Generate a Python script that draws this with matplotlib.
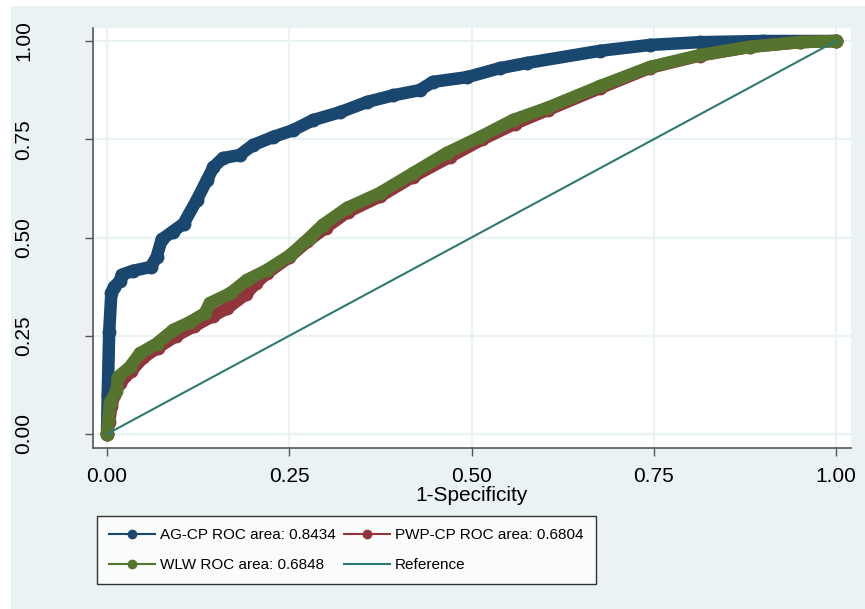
"""ROC curves for AG-CP, PWP-CP and WLW models (Stata s2color look)."""

import matplotlib

matplotlib.use("Agg")
import matplotlib.pyplot as plt  # noqa: E402
from matplotlib.lines import Line2D  # noqa: E402
from matplotlib.patches import Rectangle  # noqa: E402

# data
ag_x = [0, 0.001, 0.003, 0.006, 0.01, 0.018, 0.02, 0.035, 0.06, 0.068, 0.075, 0.09,
        0.105, 0.123, 0.137, 0.146, 0.159, 0.182, 0.2, 0.228, 0.255, 0.283, 0.32,
        0.357, 0.393, 0.429, 0.447, 0.494, 0.539, 0.576, 0.676, 0.745, 0.813, 0.9, 1]
ag_y = [0, 0.1, 0.26, 0.36, 0.375, 0.39, 0.405, 0.415, 0.425, 0.45, 0.495, 0.515,
        0.535, 0.595, 0.646, 0.679, 0.702, 0.71, 0.735, 0.756, 0.773, 0.799, 0.819,
        0.845, 0.862, 0.875, 0.896, 0.908, 0.931, 0.944, 0.975, 0.99, 0.997, 1.0, 1]

pwp_x = [0, 0.003, 0.006, 0.01, 0.018, 0.033, 0.05, 0.07, 0.095, 0.12, 0.145, 0.165,
         0.19, 0.205, 0.22, 0.25, 0.275, 0.3, 0.33, 0.375, 0.42, 0.47, 0.515, 0.56,
         0.605, 0.676, 0.745, 0.813, 0.882, 0.95, 1]
pwp_y = [0, 0.03, 0.07, 0.1, 0.13, 0.16, 0.195, 0.22, 0.25, 0.275, 0.3, 0.32,
         0.355, 0.385, 0.41, 0.45, 0.49, 0.525, 0.565, 0.605, 0.655, 0.705, 0.75, 0.79,
         0.825, 0.88, 0.932, 0.963, 0.985, 0.997, 1]

wlw_x = [0, 0.002, 0.004, 0.013, 0.015, 0.031, 0.045, 0.068, 0.091, 0.114, 0.134,
         0.141, 0.169, 0.192, 0.219, 0.251, 0.278, 0.296, 0.329, 0.374, 0.42, 0.466,
         0.512, 0.557, 0.604, 0.676, 0.745, 0.813, 0.882, 0.95, 1]
wlw_y = [0, 0.035, 0.08, 0.11, 0.145, 0.17, 0.205, 0.23, 0.265, 0.285, 0.307,
         0.333, 0.358, 0.392, 0.417, 0.455, 0.5, 0.532, 0.575, 0.613, 0.664, 0.715,
         0.756, 0.799, 0.83, 0.885, 0.934, 0.964, 0.985, 0.997, 1]

ref_x = [0, 1]
ref_y = [0, 1]

labels = ["AG-CP ROC area: 0.8434", "PWP-CP ROC area: 0.6804",
          "WLW ROC area: 0.6848", "Reference"]
ticks = [0, 0.25, 0.5, 0.75, 1.0]
tick_labels = ["0.00", "0.25", "0.50", "0.75", "1.00"]

NAVY, MAROON, GREEN, TEAL = "#1a476f", "#90353b", "#55752f", "#2f7872"
BG = "#eaf2f3"

W, H = 865, 609
plt.rcParams["font.family"] = ["Liberation Sans", "DejaVu Sans"]

fig = plt.figure(figsize=(W / 100, H / 100), dpi=100)
fig.patches.append(Rectangle((11 / W, 0), 1, 1 - 6 / H, transform=fig.transFigure,
                             facecolor=BG, edgecolor="none", zorder=-10))

ax = fig.add_axes([93 / W, 1 - 448 / H, (851 - 93) / W, (448 - 28) / H])
ax.set_facecolor("white")

band = dict(lw=9.0, marker="o", ms=9.0, solid_capstyle="round",
            solid_joinstyle="round")
ax.plot(ag_x, ag_y, color=NAVY, zorder=3, **band)
ax.plot(pwp_x, pwp_y, color=MAROON, zorder=4, **band)
ax.plot(wlw_x, wlw_y, color=GREEN, zorder=5, **band)
ax.plot(ref_x, ref_y, color=TEAL, lw=1.5, zorder=6)

ax.set_xlim((93 - 107) / 729, (851 - 107) / 729)
ax.set_ylim((434 - 448) / 393, (434 - 28) / 393)
ax.set_xticks(ticks)
ax.set_xticklabels(tick_labels)
ax.set_yticks(ticks)
ax.set_yticklabels(tick_labels, rotation=90, va="center")
ax.grid(True, color=BG, lw=1.6)
ax.set_axisbelow(True)
for s in ["top", "right"]:
    ax.spines[s].set_visible(False)
for s in ["left", "bottom"]:
    ax.spines[s].set_color("#555555")
    ax.spines[s].set_linewidth(1.2)
ax.tick_params(axis="both", colors="#555555", labelcolor="black", length=6,
               width=1.0, labelsize=15)
ax.tick_params(axis="x", pad=8)
ax.tick_params(axis="y", pad=37)
ax.set_xlabel("1-Specificity", fontsize=15, labelpad=0)

handles = [
    Line2D([], [], color=NAVY, lw=1.5, marker="o", ms=6),
    Line2D([], [], color=MAROON, lw=1.5, marker="o", ms=6),
    Line2D([], [], color=GREEN, lw=1.5, marker="o", ms=6),
    Line2D([], [], color=TEAL, lw=1.5),
]
# matplotlib fills legend columns first; reorder so rows read AG, PWP / WLW, Ref
order = [0, 2, 1, 3]
leg = fig.legend([handles[i] for i in order], [labels[i] for i in order],
                 loc="upper left", bbox_to_anchor=(97 / W, 1 - 516 / H),
                 ncol=2, prop={"size": 11}, frameon=True, fancybox=False,
                 edgecolor="black", borderaxespad=0, handlelength=3.0,
                 handletextpad=0.35, columnspacing=0.5, labelspacing=1.05,
                 borderpad=0.8)
leg.get_frame().set_linewidth(1.0)

fig.savefig("out.png", dpi=100, facecolor="white")
